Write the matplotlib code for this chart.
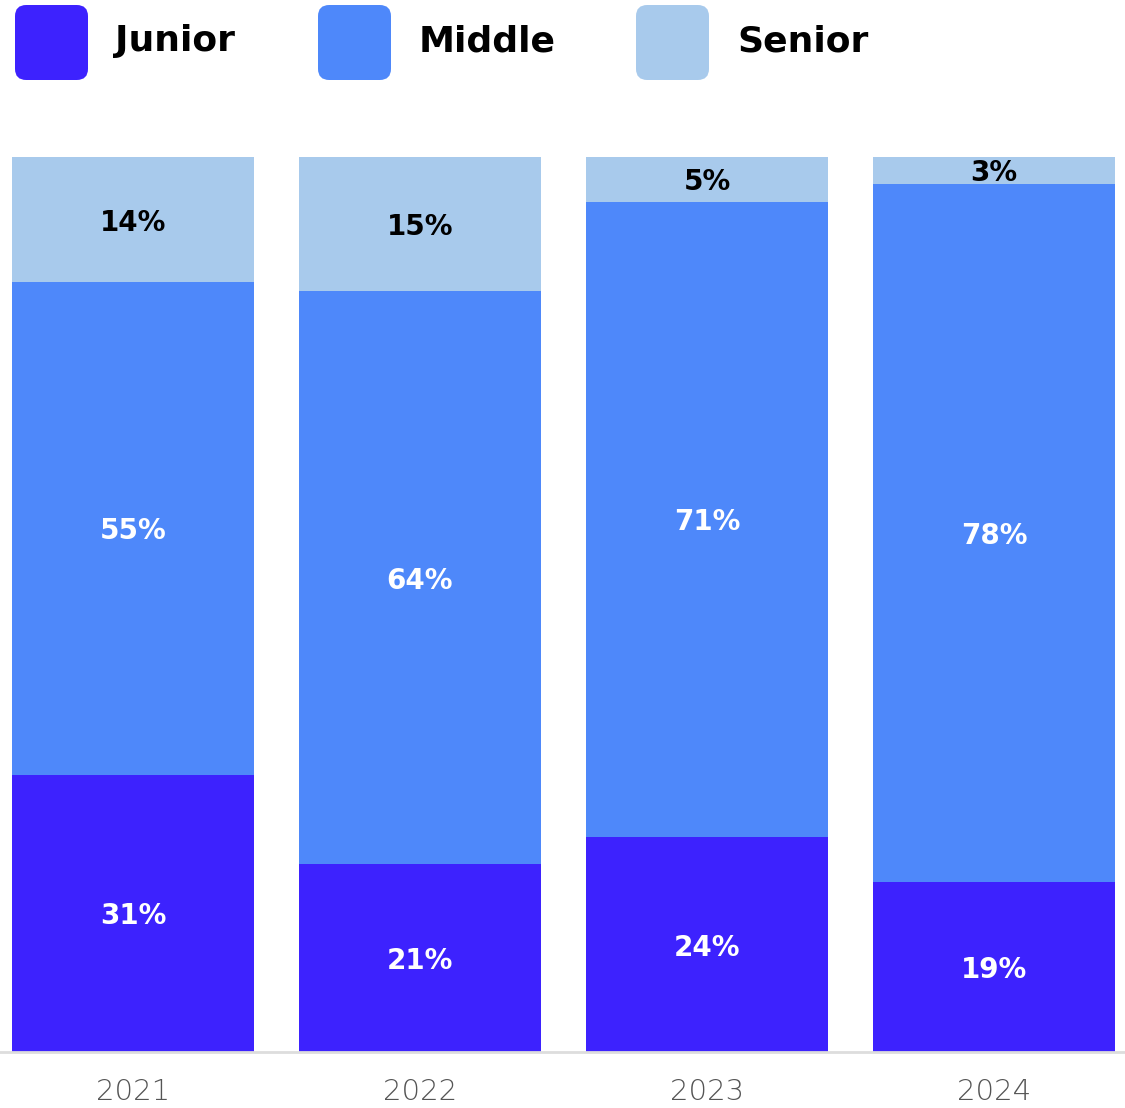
import matplotlib
matplotlib.use("Agg")
import matplotlib.pyplot as plt
from matplotlib.patches import FancyBboxPatch
import numpy as np

# Доли уровней по годам, %
years = ["2021", "2022", "2023", "2024"]
junior = [31, 21, 24, 19]
middle = [55, 64, 71, 78]
senior = [14, 15, 5, 3]

levels = ["Junior", "Middle", "Senior"]
colors = ["#3d22fe", "#4e88fa", "#a8caec"]
text_colors = ["white", "white", "black"]

plt.rcParams['font.family'] = ['DejaVu Sans']

W, H = 1125, 1108
fig = plt.figure(figsize=(W / 100, H / 100), dpi=100)

# оси по всей ширине, низ на линии основания, верх = 100%
ax = fig.add_axes([0, (H - 1052) / H, 1, 895 / H])
x = np.arange(len(years))
width = 242 / 287

bottom = np.zeros(len(years))
for vals, col, tcol in zip([junior, middle, senior], colors, text_colors):
    vals = np.array(vals)
    ax.bar(x, vals, width=width, bottom=bottom, color=col, linewidth=0)
    for xi, b, v in zip(x, bottom, vals):
        ax.text(xi, b + v / 2, f"{v}%", ha="center", va="center_baseline",
                color=tcol, fontsize=20, fontweight="bold")
    bottom += vals

ax.set_xlim(-133 / 287, (W - 133) / 287)
ax.set_ylim(0, 100)
for s in ["top", "right", "left"]:
    ax.spines[s].set_visible(False)
ax.spines["bottom"].set_color("#dddddd")
ax.spines["bottom"].set_linewidth(2)
ax.set_yticks([])
ax.set_xticks(x)
ax.set_xticklabels(years, fontsize=21, color="#555555", fontweight="light")
ax.tick_params(axis="x", length=0, pad=19)

# легенда: скруглённые квадраты и подписи
box_x = [15, 318, 636]
text_x = [115, 419, 737]
for bx, tx, col, name in zip(box_x, text_x, colors, levels):
    patch = FancyBboxPatch((bx / W, 1 - 80 / H), 73 / W, 75 / H,
                           boxstyle="round,pad=0,rounding_size=0.01",
                           transform=fig.transFigure, facecolor=col,
                           edgecolor="none")
    fig.patches.append(patch)
    fig.text(tx / W, 1 - 41 / H, name, ha="left", va="center",
             fontsize=26, fontweight="bold", color="black")

plt.savefig("out.png", dpi=100)
